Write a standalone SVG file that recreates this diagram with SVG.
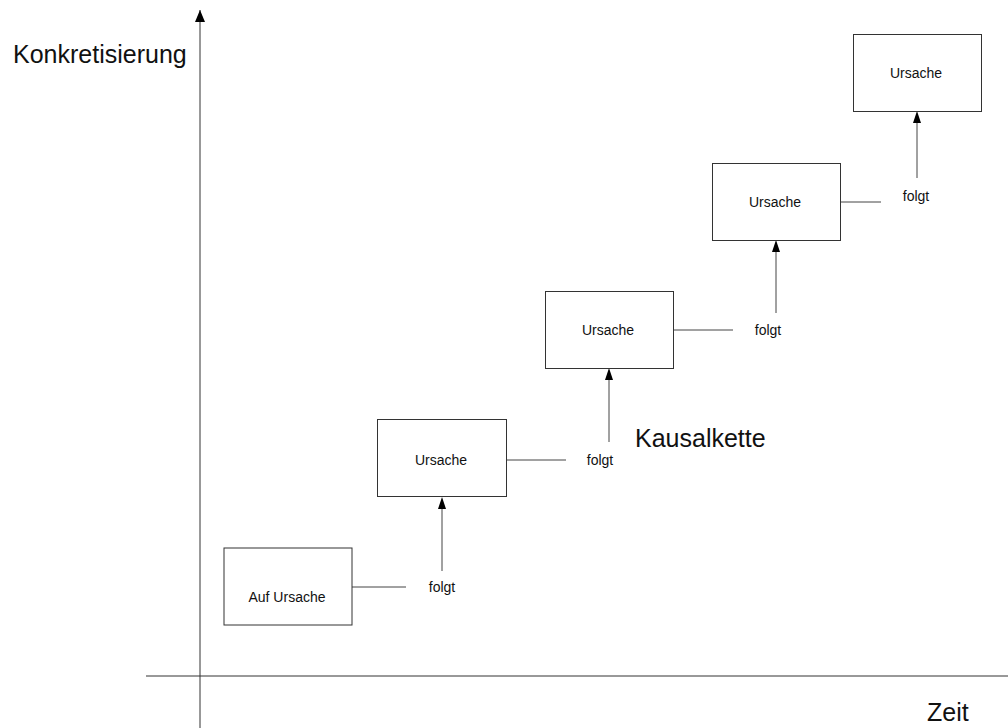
<svg xmlns="http://www.w3.org/2000/svg" width="1008" height="728" viewBox="0 0 1008 728">
  <style>
    .box { fill: #fff; stroke: #333; stroke-width: 1; }
    .lbl { font-family: "Liberation Sans", Arial, sans-serif; font-size: 14px; fill: #111; text-anchor: middle; dominant-baseline: central; }
    .big { font-family: "Liberation Sans", Arial, sans-serif; font-size: 25px; fill: #111; }
    .ln { stroke: #444; stroke-width: 1; fill: none; }
  </style>
  <defs>
    <marker id="up" viewBox="0 0 10 12" refX="5" refY="0" markerWidth="10" markerHeight="12" markerUnits="userSpaceOnUse" orient="0">
      <path d="M0,12 L5,0 L10,12 Z" fill="#000"/>
    </marker>
  </defs>

  <!-- axes -->
  <g id="axes">
    <line x1="200" y1="728" x2="200" y2="10" stroke="#333" stroke-width="1" marker-end="url(#up)"/>
    <line x1="146" y1="676" x2="1008" y2="676" stroke="#333" stroke-width="1"/>
    <text class="big" x="13" y="63">Konkretisierung</text>
    <text class="big" x="927" y="721">Zeit</text>
  </g>

  <text class="big" x="635" y="447">Kausalkette</text>

  <!-- connectors -->
  <g id="connectors">
    <line class="ln" x1="352" y1="587" x2="406" y2="587"/>
    <line class="ln" x1="442" y1="571" x2="442" y2="509"/>
    <path d="M438,509 L442,497 L446,509 Z" fill="#000"/>

    <line class="ln" x1="507" y1="460" x2="566" y2="460"/>
    <line class="ln" x1="609" y1="442" x2="609" y2="380"/>
    <path d="M605,380 L609,368 L613,380 Z" fill="#000"/>

    <line class="ln" x1="673" y1="330" x2="733" y2="330"/>
    <line class="ln" x1="776" y1="313" x2="776" y2="252"/>
    <path d="M772,252 L776,240 L780,252 Z" fill="#000"/>

    <line class="ln" x1="840" y1="202" x2="881" y2="202"/>
    <line class="ln" x1="917" y1="178" x2="917" y2="123"/>
    <path d="M913,123 L917,111 L921,123 Z" fill="#000"/>
  </g>

  <!-- connector labels -->
  <g id="labels">
    <text class="lbl" x="442" y="587">folgt</text>
    <text class="lbl" x="600" y="460">folgt</text>
    <text class="lbl" x="768" y="330">folgt</text>
    <text class="lbl" x="916" y="196">folgt</text>
  </g>

  <g id="n1">
    <rect class="box" x="224" y="548" width="128" height="77"/>
    <text class="lbl" x="287" y="597">Auf Ursache</text>
  </g>
  <g id="n2">
    <rect class="box" x="377.5" y="419.5" width="129" height="77"/>
    <text class="lbl" x="441" y="460">Ursache</text>
  </g>
  <g id="n3">
    <rect class="box" x="545.5" y="291.5" width="128" height="77"/>
    <text class="lbl" x="608" y="330">Ursache</text>
  </g>
  <g id="n4">
    <rect class="box" x="712.5" y="163.5" width="128" height="77"/>
    <text class="lbl" x="775" y="202">Ursache</text>
  </g>
  <g id="n5">
    <rect class="box" x="853.5" y="34.5" width="128" height="77"/>
    <text class="lbl" x="916" y="73">Ursache</text>
  </g>
</svg>
